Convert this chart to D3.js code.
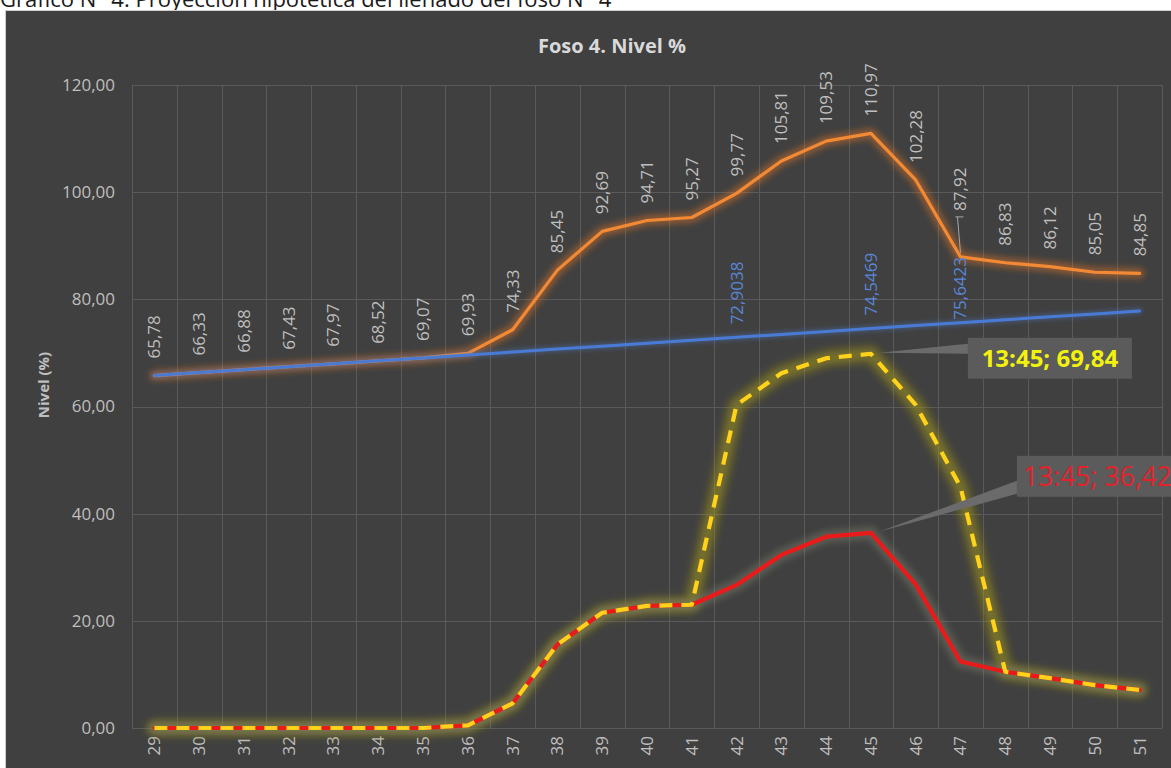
<!DOCTYPE html>
<html>
<head>
<meta charset="utf-8">
<script src="https://cdn.jsdelivr.net/npm/d3@7"></script>
<style>
  html, body { margin: 0; padding: 0; background: #ffffff; }
  svg { display: block; }
  text { font-family: "Open Sans", "DejaVu Sans", sans-serif; }
</style>
</head>
<body>
<svg id="chart" width="1171" height="768"></svg>
<script>
// ---------- data ----------
const categories = ["29","30","31","32","33","34","35","36","37","38","39","40",
                    "41","42","43","44","45","46","47","48","49","50","51"];
// orange series (projection) with labels
const proyeccion = [65.78, 66.33, 66.88, 67.43, 67.97, 68.52, 69.07, 69.93, 74.33, 85.45,
                    92.69, 94.71, 95.27, 99.77, 105.81, 109.53, 110.97, 102.28, 87.92,
                    86.83, 86.12, 85.05, 84.85];
// blue series (trend)
const tendencia = [65.7837, 66.3314, 66.8791, 67.4268, 67.9745, 68.5222, 69.0699, 69.6176,
                   70.1653, 70.7130, 71.2607, 71.8084, 72.3561, 72.9038, 73.4515, 73.9992,
                   74.5469, 75.0946, 75.6423, 76.1900, 76.7377, 77.2854, 77.8331];
const tendenciaEtiquetas = ["", "", "", "", "", "", "", "", "", "", "", "", "",
                            "72,9038", "", "", "74,5469", "", "75,6423", "", "", "", ""];
// yellow dashed series (hypothetical)
const hipotetico = [0, 0, 0, 0, 0, 0, 0, 0.5, 4.6, 15.6, 21.5, 22.8, 23.0, 60.3, 66.2,
                    69.0, 69.84, 60.3, 45.0, 10.5, 9.3, 8.0, 7.1];
// red series
const real = [0, 0, 0, 0, 0, 0, 0, 0.5, 4.6, 15.6, 21.5, 22.8, 23.0, 26.7, 32.3,
              35.7, 36.42, 26.8, 12.4, 10.5, 9.3, 8.0, 7.1];
const yTicks = [0, 20, 40, 60, 80, 100, 120];
const calloutHipotetico = { index: 16, text: "13:45; 69,84" };
const calloutReal = { index: 16, text: "13:45; 36,42" };

// ---------- setup ----------
const svg = d3.select("#chart");
const W = 1171, H = 768;
const plot = { left: 132, right: 1162, top: 85, bottom: 728 };

const fmt = v => d3.format(".2f")(v).replace(".", ",");

const x = d3.scaleBand().domain(categories).range([plot.left, plot.right]).padding(0);
const cx = c => x(c) + x.bandwidth() / 2;
const y = d3.scaleLinear().domain([0, 120]).range([plot.bottom, plot.top]);

const defs = svg.append("defs");
[["blur2", 2], ["blur3", 3], ["blur4", 4.5]].forEach(([id, s]) => {
  defs.append("filter").attr("id", id)
    .attr("filterUnits", "userSpaceOnUse")
    .attr("x", 0).attr("y", 0).attr("width", W).attr("height", H)
    .append("feGaussianBlur").attr("stdDeviation", s);
});
defs.append("clipPath").attr("id", "clipAll")
  .append("rect").attr("x", 0).attr("y", 0).attr("width", W).attr("height", H);

// caption (partly cut at top, as in the reference)
svg.append("text")
  .attr("x", 0).attr("y", 7)
  .attr("font-size", 22).attr("fill", "#1a1a1a")
  .text("Gráfico N° 4. Proyección hipotética del llenado del foso N° 4");

// chart background
svg.append("rect")
  .attr("x", 5.5).attr("y", 10.5).attr("width", W + 20).attr("height", H + 20)
  .attr("fill", "#404040").attr("stroke", "#cfcfcf").attr("stroke-width", 1);

// title
svg.append("text")
  .attr("x", 612).attr("y", 53)
  .attr("text-anchor", "middle")
  .attr("font-size", 20).attr("font-weight", "bold").attr("fill", "#d9d9d9")
  .text("Foso 4. Nivel %");

// y axis title
svg.append("text")
  .attr("transform", "translate(44,385) rotate(-90)")
  .attr("text-anchor", "middle").attr("dy", "0.35em")
  .attr("font-size", 15).attr("font-weight", "bold").attr("fill", "#bfbfbf")
  .text("Nivel (%)");

// gridlines
const grid = svg.append("g");
grid.selectAll("line.h").data(yTicks).join("line")
  .attr("x1", plot.left).attr("x2", plot.right)
  .attr("y1", d => Math.round(y(d)) + 0.5).attr("y2", d => Math.round(y(d)) + 0.5)
  .attr("stroke", "#5a5a5a").attr("stroke-width", 1);
const vBounds = categories.map(c => x(c)).concat([plot.right]);
grid.selectAll("line.v").data(vBounds).join("line")
  .attr("x1", d => Math.round(d) + 0.5).attr("x2", d => Math.round(d) + 0.5)
  .attr("y1", plot.top).attr("y2", plot.bottom)
  .attr("stroke", "#5a5a5a").attr("stroke-width", 1);

// y axis
const yAxis = svg.append("g")
  .attr("transform", "translate(" + plot.left + ",0)")
  .call(d3.axisLeft(y).tickValues(yTicks).tickFormat(fmt).tickSize(0).tickPadding(17));
yAxis.select(".domain").remove();
yAxis.selectAll("text")
  .attr("font-family", "'Open Sans', sans-serif")
  .attr("font-size", 17).attr("fill", "#bfbfbf");

// x axis
const xAxis = svg.append("g")
  .attr("transform", "translate(0," + plot.bottom + ")")
  .call(d3.axisBottom(x).tickSize(0).tickPadding(0));
xAxis.select(".domain").remove();
xAxis.selectAll("text")
  .attr("font-family", "'Open Sans', sans-serif")
  .attr("font-size", 17).attr("fill", "#bfbfbf")
  .attr("text-anchor", "end")
  .attr("transform", "translate(0,8) rotate(-90)")
  .attr("x", 0).attr("y", 0).attr("dy", "0.35em");

// line generators
const lineOf = arr => d3.line()
  .x((d, i) => cx(categories[i]))
  .y(d => y(d))
  .curve(d3.curveLinear)(arr);

const series = svg.append("g")
  .attr("stroke-linejoin", "round").attr("stroke-linecap", "round");

// orange
series.append("path").attr("d", lineOf(proyeccion))
  .attr("fill", "none").attr("stroke", "#f07a22").attr("stroke-width", 10)
  .attr("stroke-opacity", 0.45).attr("filter", "url(#blur3)");
series.append("path").attr("d", lineOf(proyeccion))
  .attr("fill", "none").attr("stroke", "#f28a35").attr("stroke-width", 3.2);

// blue
series.append("path").attr("d", lineOf(tendencia))
  .attr("fill", "none").attr("stroke", "#4d7fd6").attr("stroke-width", 6)
  .attr("stroke-opacity", 0.35).attr("filter", "url(#blur2)");
series.append("path").attr("d", lineOf(tendencia))
  .attr("fill", "none").attr("stroke", "#4a7bd4").attr("stroke-width", 3);

// glows for red & yellow
series.append("path").attr("d", lineOf(hipotetico))
  .attr("fill", "none").attr("stroke", "#a89a10").attr("stroke-width", 14)
  .attr("stroke-opacity", 0.55).attr("filter", "url(#blur4)");
series.append("path").attr("d", lineOf(real))
  .attr("fill", "none").attr("stroke", "#7a7a6a").attr("stroke-width", 12)
  .attr("stroke-opacity", 0.5).attr("filter", "url(#blur3)");

// red
series.append("path").attr("d", lineOf(real))
  .attr("fill", "none").attr("stroke", "#e81a1a").attr("stroke-width", 4.2);
// yellow dashed
series.append("path").attr("d", lineOf(hipotetico))
  .attr("fill", "none").attr("stroke", "#ffd21c").attr("stroke-width", 4.2)
  .attr("stroke-linecap", "butt")
  .attr("stroke-dasharray", "13,9");

// orange data labels
const labels = svg.append("g");
proyeccion.forEach((v, i) => {
  const px = cx(categories[i]);
  let gap = 17;
  if (i === 18) {
    gap = 46;
    labels.append("line")
      .attr("x1", px - 3).attr("x2", px).attr("y1", y(v) - gap + 6).attr("y2", y(v) - 4)
      .attr("stroke", "#a6a6a6").attr("stroke-width", 1);
    labels.append("line")
      .attr("x1", px - 5).attr("x2", px + 3).attr("y1", y(v) - gap + 6).attr("y2", y(v) - gap + 6)
      .attr("stroke", "#a6a6a6").attr("stroke-width", 1);
  }
  labels.append("text")
    .attr("transform", "translate(" + px + "," + (y(v) - gap) + ") rotate(-90)")
    .attr("dy", "0.35em")
    .attr("font-size", 17).attr("fill", "#bfbfbf")
    .text(fmt(v));
});

// blue data labels
tendencia.forEach((v, i) => {
  if (!tendenciaEtiquetas[i]) return;
  const px = cx(categories[i]);
  const gap = i === 18 ? 3 : 13;
  labels.append("text")
    .attr("transform", "translate(" + px + "," + (y(v) - gap) + ") rotate(-90)")
    .attr("dy", "0.35em")
    .attr("font-size", 17).attr("fill", "#5a86d6")
    .text(tendenciaEtiquetas[i]);
});

// callouts
function callout(c, arr, dx, dy, w, h, color, weight, size, leaderY0, leaderY1, anchor) {
  const px = cx(categories[c.index]), py = y(arr[c.index]);
  const bx = px + dx, by = py + dy;
  const g = svg.append("g").attr("clip-path", "url(#clipAll)");
  g.append("path")
    .attr("d", "M" + (px + 8) + "," + (py - 1) +
               "L" + bx + "," + (by + leaderY0) +
               "L" + bx + "," + (by + leaderY1) + "Z")
    .attr("fill", "#6b6b6b");
  g.append("rect").attr("x", bx).attr("y", by).attr("width", w).attr("height", h)
    .attr("fill", "#5b5b5b");
  g.append("text")
    .attr("x", anchor === "middle" ? bx + w / 2 : bx + 6)
    .attr("y", by + h / 2).attr("dy", "0.35em")
    .attr("text-anchor", anchor)
    .attr("font-size", size).attr("font-weight", weight).attr("fill", color)
    .text(c.text);
}
callout(calloutHipotetico, hipotetico, 97, -16, 164, 41, "#f2f20c", "bold", 24, 6, 16, "middle");
callout(calloutReal, real, 146, -77, 180, 41, "#e3222c", "normal", 26.5, 25, 38, "start");
</script>
</body>
</html>
